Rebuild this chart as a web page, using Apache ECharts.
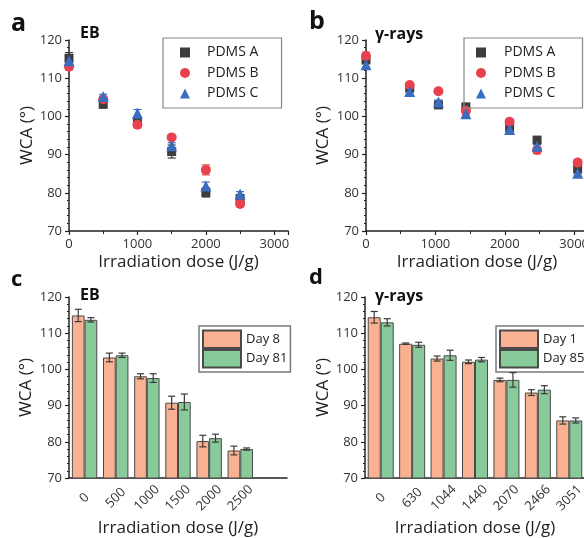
<!DOCTYPE html>
<html>
<head>
<meta charset="utf-8">
<script src="https://cdn.jsdelivr.net/npm/echarts@6/dist/echarts.min.js"></script>
<style>
  html, body { margin: 0; padding: 0; background: #fff; overflow: hidden; }
  #chart { width: 600px; height: 538px; }
</style>
</head>
<body>
<div id="chart"></div>
<script>
// a: EB, water contact angle vs dose
const ebDose = [0, 500, 1000, 1500, 2000, 2500];
const ebA = [115.2, 103.2, 98.7, 90.8, 80.1, 78.5];
const ebAErr = [1.5, 1.0, 1.0, 1.7, 1.2, 1.0];
const ebB = [113.0, 104.5, 97.8, 94.5, 86.0, 77.1];
const ebBErr = [0.8, 0.8, 0.8, 0.5, 1.3, 0.7];
const ebC = [114.6, 105.2, 100.8, 92.3, 81.8, 79.7];
const ebCErr = [0.8, 0.6, 1.0, 0.8, 1.0, 0.6];

// b: gamma rays
const gDose = [0, 630, 1044, 1440, 2070, 2466, 3051];
const gA = [114.8, 107.4, 103.0, 102.5, 97.1, 93.8, 86.2];
const gAErr = [1.0, 0.8, 0.6, 0.6, 0.6, 0.8, 0.8];
const gB = [115.8, 108.2, 106.6, 101.5, 98.6, 91.2, 87.9];
const gBErr = [1.0, 0.5, 0.5, 1.0, 0.6, 1.0, 0.8];
const gC = [113.5, 106.5, 103.8, 100.7, 96.6, 92.2, 85.1];
const gCErr = [0.6, 0.8, 0.5, 0.7, 0.5, 0.5, 0.5];

// c: EB ageing
const ebCats = ['0', '500', '1000', '1500', '2000', '2500', ''];
const day8 = [114.9, 103.3, 98.1, 90.8, 80.2, 77.6];
const day8Err = [1.7, 1.2, 0.7, 1.8, 1.6, 1.2];
const day81 = [113.7, 103.9, 97.6, 91.0, 81.0, 78.0];
const day81Err = [0.6, 0.6, 1.2, 2.2, 1.1, 0.3];

// d: gamma ageing
const gCats = ['0', '630', '1044', '1440', '2070', '2466', '3051'];
const day1 = [114.4, 107.1, 103.0, 102.1, 97.1, 93.6, 85.9];
const day1Err = [1.6, 0.2, 0.7, 0.5, 0.5, 0.8, 1.0];
const day85 = [113.0, 106.8, 103.9, 102.7, 97.1, 94.4, 85.9];
const day85Err = [1.0, 0.7, 1.4, 0.6, 2.0, 1.1, 0.7];

const FONT = 'Open Sans';
const INK = '#222';
const cBlack = '#3d3d3d', cRed = '#e8424f', cBlue = '#3a6cc0';
const cOrange = '#f8b291', cGreen = '#89ca9a', cEdge = '#4a4a4a';

const chart = echarts.init(document.getElementById('chart'));

function yAx(idx, gap) {
  return {
    type: 'value', gridIndex: idx, min: 70, max: 120, interval: 10,
    name: 'WCA (°)', nameLocation: 'middle', nameGap: gap,
    nameTextStyle: { fontFamily: FONT, fontSize: 17, color: INK },
    axisLine: { show: true, lineStyle: { color: INK, width: 1.5 } },
    axisTick: { show: true, length: 4, lineStyle: { color: INK, width: 1.2 } },
    minorTick: { show: true, splitNumber: 5, length: 2, lineStyle: { color: INK, width: 1 } },
    axisLabel: { fontFamily: FONT, fontSize: 13, color: '#333', margin: 7 },
    splitLine: { show: false }
  };
}

function xVal(idx) {
  return {
    type: 'value', gridIndex: idx, min: 0, max: 3200, interval: 1000,
    name: 'Irradiation dose (J/g)', nameLocation: 'middle', nameGap: 23,
    nameTextStyle: { fontFamily: FONT, fontSize: 17, color: INK },
    axisLine: { lineStyle: { color: INK, width: 1.5 } },
    axisTick: { length: 4, lineStyle: { color: INK, width: 1.2 } },
    minorTick: { show: true, splitNumber: 2, length: 3, lineStyle: { color: INK, width: 1 } },
    axisLabel: { fontFamily: FONT, fontSize: 13, color: '#333', margin: 7, showMaxLabel: false,
      formatter: v => String(v) },
    splitLine: { show: false }
  };
}

function xCat(idx, cats) {
  return {
    type: 'category', gridIndex: idx, data: cats, boundaryGap: true,
    name: 'Irradiation dose (J/g)', nameLocation: 'middle', nameGap: 42,
    nameTextStyle: { fontFamily: FONT, fontSize: 17, color: INK },
    axisLine: { lineStyle: { color: INK, width: 1.5 } },
    axisTick: { alignWithLabel: true, interval: 0, length: 4, lineStyle: { color: INK, width: 1.2 } },
    axisLabel: { interval: 0, rotate: 45, align: 'center', verticalAlign: 'middle', margin: 20,
      fontFamily: FONT, fontSize: 13, color: '#333' },
    splitLine: { show: false }
  };
}

function dots(idx, name, dose, vals, symbol, size, color) {
  return {
    type: 'scatter', name: name, xAxisIndex: idx, yAxisIndex: idx,
    symbol: symbol, symbolSize: size, itemStyle: { color: color, opacity: 1 },
    data: dose.map((d, i) => [d, vals[i]]), z: 3
  };
}

function bars(idx, name, vals, color, width) {
  return {
    type: 'bar', name: name, xAxisIndex: idx, yAxisIndex: idx,
    barWidth: width, barGap: '0%',
    itemStyle: { color: color, borderColor: cEdge, borderWidth: 1 },
    data: vals, z: 2
  };
}

// error bars drawn through the axes' own coord()
function errs(idx, xs, vals, es, color, cap, shift, z) {
  return {
    type: 'custom', xAxisIndex: idx, yAxisIndex: idx, z: z, silent: true,
    data: xs.map((x, i) => [x, vals[i] - es[i], vals[i] + es[i]]),
    renderItem: (params, api) => {
      const lo = api.coord([api.value(0), api.value(1)]);
      const hi = api.coord([api.value(0), api.value(2)]);
      const x = lo[0] + shift;
      const st = { stroke: color, lineWidth: 1.2 };
      return {
        type: 'group', children: [
          { type: 'line', shape: { x1: x, y1: lo[1], x2: x, y2: hi[1] }, style: st },
          { type: 'line', shape: { x1: x - cap, y1: lo[1], x2: x + cap, y2: lo[1] }, style: st },
          { type: 'line', shape: { x1: x - cap, y1: hi[1], x2: x + cap, y2: hi[1] }, style: st }
        ]
      };
    }
  };
}

const idxC = day8.map((v, i) => i);
const idxD = day1.map((v, i) => i);

function label(txt, x, y, size) {
  return { type: 'text', left: x, top: y,
    style: { text: txt, fontFamily: FONT, fontSize: size, fontWeight: 'bold', fill: '#111' } };
}

const scatterLegend = (left, padL, textPad, padR) => ({
  orient: 'vertical', left: left, top: 38, selectedMode: false,
  data: ['PDMS A', 'PDMS B', 'PDMS C'],
  itemWidth: 10, itemHeight: 10, itemGap: 6.5,
  padding: [7.5, padR, 7.5, padL],
  borderColor: '#888', borderWidth: 1.2,
  textStyle: { fontFamily: FONT, fontSize: 14, color: INK, padding: [0, 0, 0, textPad] }
});

const barLegend = (left, names, padR) => ({
  orient: 'vertical', left: left, top: 326, selectedMode: false,
  data: names.map(n => ({ name: n, icon: 'rect' })),
  itemWidth: 38, itemHeight: 17.5, itemGap: 0,
  padding: [3.5, padR, 3.5, 3],
  borderColor: '#7a7a7a', borderWidth: 1.5,
  textStyle: { fontFamily: FONT, fontSize: 13, color: INK }
});

chart.setOption({
  backgroundColor: '#fff',
  animation: false,
  grid: [
    { left: 69, top: 40, width: 219, height: 191 },
    { left: 366, top: 40, width: 222, height: 191 },
    { left: 69, top: 297, width: 218, height: 183 },
    { left: 365, top: 297, width: 220, height: 183 }
  ],
  xAxis: [xVal(0), xVal(1), xCat(2, ebCats), xCat(3, gCats)],
  yAxis: [yAx(0, 30), yAx(1, 34), yAx(2, 34), yAx(3, 32)],
  legend: [
    scatterLegend(163, 17, 12, 23),
    scatterLegend(464, 12, 13, 27),
    barLegend(199, ['Day 8', 'Day 81'], 3),
    barLegend(496, ['Day 1', 'Day 85'], 8)
  ],
  graphic: [
    label('a', 11, 11, 25), label('b', 309, 9, 25),
    label('c', 11, 269, 22), label('d', 309, 267, 22),
    label('EB', 80, 25, 16), label('γ-rays', 375, 26, 16),
    label('EB', 80, 287, 16), label('γ-rays', 375, 288, 16)
  ],
  series: [
    errs(0, ebDose, ebA, ebAErr, cBlack, 4, 0, 2),
    dots(0, 'PDMS A', ebDose, ebA, 'rect', 9, cBlack),
    errs(0, ebDose, ebB, ebBErr, cRed, 4, 0, 2),
    dots(0, 'PDMS B', ebDose, ebB, 'circle', 10, cRed),
    errs(0, ebDose, ebC, ebCErr, cBlue, 4, 0, 2),
    dots(0, 'PDMS C', ebDose, ebC, 'triangle', 11, cBlue),

    errs(1, gDose, gA, gAErr, cBlack, 4, 0, 2),
    dots(1, 'PDMS A', gDose, gA, 'rect', 9, cBlack),
    errs(1, gDose, gB, gBErr, cRed, 4, 0, 2),
    dots(1, 'PDMS B', gDose, gB, 'circle', 10, cRed),
    errs(1, gDose, gC, gCErr, cBlue, 4, 0, 2),
    dots(1, 'PDMS C', gDose, gC, 'triangle', 11, cBlue),

    bars(2, 'Day 8', day8, cOrange, 12.7),
    bars(2, 'Day 81', day81, cGreen, 12.7),
    errs(2, idxC, day8, day8Err, '#3a3a3a', 3.5, -6.35, 4),
    errs(2, idxC, day81, day81Err, '#3a3a3a', 3.5, 6.35, 4),

    bars(3, 'Day 1', day1, cOrange, 13),
    bars(3, 'Day 85', day85, cGreen, 13),
    errs(3, idxD, day1, day1Err, '#3a3a3a', 3.5, -6.5, 4),
    errs(3, idxD, day85, day85Err, '#3a3a3a', 3.5, 6.5, 4)
  ]
});
</script>
</body>
</html>
